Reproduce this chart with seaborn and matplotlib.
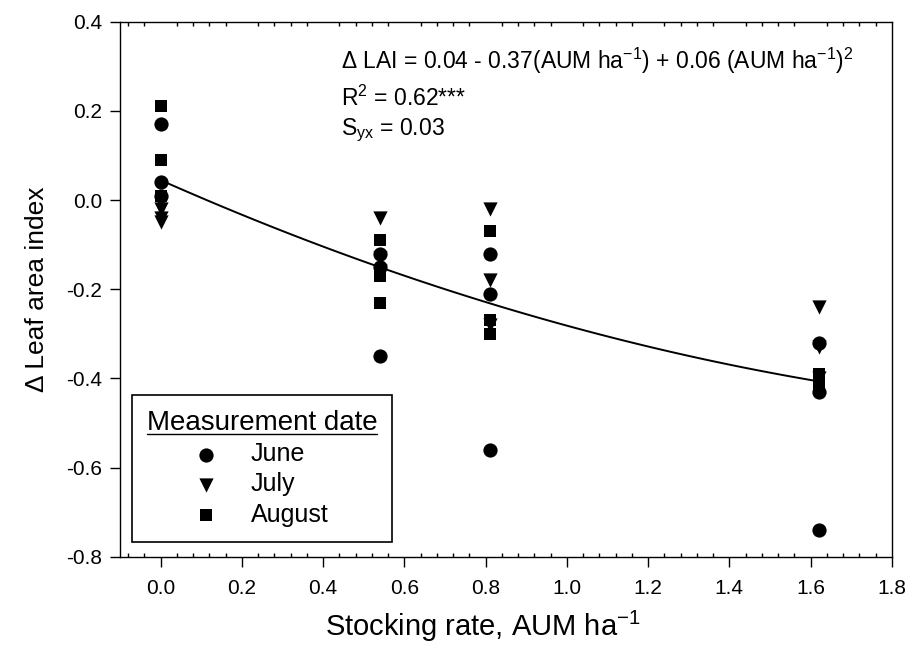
import numpy as np
import pandas as pd
import matplotlib
matplotlib.use("Agg")
import matplotlib.pyplot as plt
from matplotlib.ticker import MultipleLocator
from matplotlib.lines import Line2D
import seaborn as sns

# stocking rates (AUM/ha) and delta LAI
june_x = [0.0, 0.0, 0.0, 0.54, 0.54, 0.54, 0.81, 0.81, 0.81, 1.62, 1.62, 1.62]
june_y = [0.17, 0.04, 0.01, -0.12, -0.15, -0.35, -0.12, -0.21, -0.56, -0.32, -0.43, -0.74]
july_x = [0.0, 0.0, 0.0, 0.54, 0.54, 0.54, 0.81, 0.81, 0.81, 1.62, 1.62, 1.62]
july_y = [-0.02, -0.04, -0.05, -0.04, -0.13, -0.16, -0.02, -0.18, -0.28, -0.24, -0.33, -0.40]
aug_x = [0.0, 0.0, 0.0, 0.54, 0.54, 0.54, 0.81, 0.81, 0.81, 1.62, 1.62, 1.62]
aug_y = [0.21, 0.09, 0.01, -0.09, -0.17, -0.23, -0.07, -0.27, -0.30, -0.39, -0.40, -0.42]

months = ["June", "July", "August"]
x_ticks = [0.0, 0.2, 0.4, 0.6, 0.8, 1.0, 1.2, 1.4, 1.6, 1.8]
y_ticks = [-0.8, -0.6, -0.4, -0.2, 0.0, 0.2, 0.4]

df = pd.concat([
    pd.DataFrame({"rate": june_x, "dlai": june_y, "month": "June"}),
    pd.DataFrame({"rate": july_x, "dlai": july_y, "month": "July"}),
    pd.DataFrame({"rate": aug_x, "dlai": aug_y, "month": "August"}),
], ignore_index=True)

sns.set_style("ticks")
plt.rcParams["font.family"] = ["Liberation Sans", "DejaVu Sans"]
plt.rcParams["mathtext.fontset"] = "custom"
plt.rcParams["mathtext.rm"] = "Liberation Sans"
plt.rcParams["mathtext.it"] = "Liberation Sans:italic"
plt.rcParams["mathtext.bf"] = "Liberation Sans:bold"
plt.rcParams["mathtext.default"] = "regular"
plt.rcParams["text.color"] = "black"
plt.rcParams["axes.labelcolor"] = "black"
plt.rcParams["xtick.color"] = "black"
plt.rcParams["ytick.color"] = "black"

fig = plt.figure(figsize=(9.17, 6.48), dpi=100)
ax = fig.add_axes([0.1309, 0.1409, 0.8416, 0.8256])

marker_map = {"June": "o", "July": "v", "August": "s"}
size_map = {"June": 105, "July": 105, "August": 72}
for m in months:
    sns.scatterplot(data=df[df["month"] == m], x="rate", y="dlai", marker=marker_map[m],
                    s=size_map[m], color="black", edgecolor="black", linewidth=0,
                    label=m, ax=ax, zorder=3)

# quadratic fit
sns.regplot(data=df, x="rate", y="dlai", order=2, ci=None, scatter=False, truncate=True,
            color="black", line_kws={"linewidth": 1.4}, ax=ax)

ax.set_xlim(-0.1, 1.8)
ax.set_ylim(-0.8, 0.4)
ax.set_xticks(x_ticks)
ax.set_yticks(y_ticks)
ax.set_xticklabels([f"{v:.1f}" for v in x_ticks])
ax.set_yticklabels([f"{v:.1f}" for v in y_ticks])
ax.xaxis.set_minor_locator(MultipleLocator(0.04))
ax.tick_params(axis="x", which="major", direction="out", length=7, width=1, pad=9, labelsize=15)
ax.tick_params(axis="x", which="minor", direction="in", length=3, width=1, top=True, bottom=True)
ax.tick_params(axis="y", which="major", direction="out", length=7, width=1, pad=6, labelsize=15)
for sp in ax.spines.values():
    sp.set_visible(True)
    sp.set_linewidth(1.0)
    sp.set_color("black")

ax.set_xlabel("Stocking rate, AUM ha$^{-1}$", fontsize=21)
ax.xaxis.set_label_coords(0.47, -0.097, transform=ax.transAxes)
ax.xaxis.label.set_va("top")
ax.set_ylabel("\u0394 Leaf area index", fontsize=19, labelpad=12)

ax.text(0.286, 0.912, "\u0394 LAI = 0.04 - 0.37(AUM ha$^{-1}$) + 0.06 (AUM ha$^{-1}$)$^{2}$",
        transform=ax.transAxes, fontsize=16.5, va="baseline")
ax.text(0.286, 0.842, "R$^{2}$ = 0.62***", transform=ax.transAxes, fontsize=16.5, va="baseline")
ax.text(0.286, 0.788, "S$_{yx}$ = 0.03", transform=ax.transAxes, fontsize=16.5, va="baseline")

leg = ax.legend(title="Measurement date", loc="lower left", bbox_to_anchor=(0.015, 0.028),
                borderaxespad=0, frameon=True, fancybox=False, edgecolor="black",
                framealpha=1, fontsize=18, title_fontsize=20, handlelength=0.8,
                handletextpad=1.4, labelspacing=0.25, borderpad=0.6)
leg.get_frame().set_linewidth(1.2)

# underline the legend title
fig.canvas.draw()
bb = leg.get_title().get_window_extent()
x0, y0 = fig.transFigure.inverted().transform((bb.x0, bb.y0 + 2))
x1, _ = fig.transFigure.inverted().transform((bb.x1, bb.y0 + 2))
fig.add_artist(Line2D([x0, x1], [y0, y0], color="black", linewidth=1.0, transform=fig.transFigure))

fig.savefig("out.png", dpi=100)
